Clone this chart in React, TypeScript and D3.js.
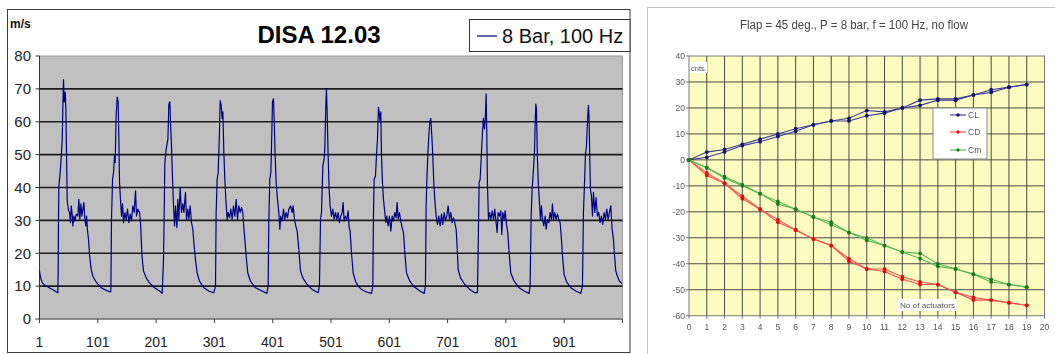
import React from 'react';
import * as d3 from 'd3';

// DISA probe trace, [sample, m/s]
const disaTrace: [number, number][] = [
  [1,14.5],[3,12.5],[6,11],[10,10.2],[15,9.8],[20,9.3],[25,8.8],[30,8.2],[32.5,8],[33,14],[33.6,30],[34.2,40.5],[36.5,44.6],[38.2,49],[40,54.7],[41.1,65],[42.2,72.8],[43.4,66],[45.1,69],[46.2,64.4],[47.4,49.7],[48.5,36],[50.8,33],[52.5,32.4],[54.2,29.3],[55.4,34.4],[57.1,31.9],[58.2,28.3],[60,31.3],[61.7,29.8],[64,31.9],[66.8,31.3],[68.5,36.4],[70.2,30.3],[72,35],[73.7,31.3],[75.4,33.4],[77.1,35.4],[78.8,30.3],[80.5,28.3],[81.7,31.3],[83.4,26.8],[85.1,24.2],[86.8,19.6],[89.7,15],[92.5,13],[98.3,11.2],[106.8,9.5],[115.4,8.7],[122.3,8.2],
  [123.4,8.5],[124.5,30.3],[126.3,42.5],[128,44.6],[129.7,49.7],[130.8,47.6],[132.5,62],[134.3,67.5],[136,66],[137.1,54.7],[138.3,41.5],[140,36],[141.7,31.3],[143.4,35],[145.1,29.3],[147.4,32.4],[149.7,30.3],[152,33.4],[154.3,29.3],[156.6,31.9],[158.8,29.8],[161.1,34.4],[163.4,32.4],[165.7,39],[167.4,31.3],[169.7,33.4],[172.6,32.4],[174.3,29.3],[176.6,19.6],[179.4,14.6],[184,12.5],[189.7,11],[198.3,9.5],[206.9,8.5],[211.4,7.8],
  [213.7,18],[214.9,32],[216,47.6],[218.3,51.7],[221.2,54.7],[222.9,65.4],[224.6,66.1],[225.7,60],[227.4,52.7],[229.2,42.5],[230.9,34.4],[232.6,28.3],[234.3,34.4],[236.6,27.8],[238.3,36.4],[240,30.3],[242.3,40],[244.6,32.4],[246.9,35],[248.6,32.4],[251.4,38.5],[253.1,30.3],[255.4,33.4],[257.1,30.3],[259.4,34.4],[261.7,29.3],[264,27.3],[266.3,22.2],[268.6,18],[271.4,14],[275.4,11.5],[282.9,9.5],[291.4,8.5],[300,8],
  [302.9,10],[304,32.4],[305.7,42.5],[307.5,44.6],[309.7,56.8],[310.9,66.4],[312.6,65],[314.3,61],[315.5,63],[317.2,50.7],[318.9,42.5],[320.6,36.4],[322.9,30.3],[324.6,32.4],[326.9,30.8],[329.2,33.4],[331.5,30.3],[333.7,34.4],[336,31.3],[338.3,36.4],[340.6,30.3],[342.9,34.4],[345.2,32.4],[347.5,33.9],[349.7,32.4],[351.5,27.8],[353.2,24.2],[355.5,19.1],[358.3,14],[362.9,11.5],[371.5,9.5],[382.9,8.5],[390.9,7.8],
  [393.2,10],[394.3,29.3],[396,42.5],[397.8,44.6],[398.9,51.7],[400.6,66],[402.3,67],[403.5,61],[405.2,49.7],[406.9,41.5],[409.2,36.4],[411.5,32.4],[413.2,27.3],[414.9,31.3],[417.2,29.8],[419.5,33.4],[421.8,30.3],[424,32.4],[426.4,30.8],[428.6,33.4],[431.5,34.4],[434.4,32.4],[436.1,34.4],[438.4,30.3],[440.6,28.3],[442.9,26.8],[445.8,21.2],[448.7,14.6],[452.7,12.5],[460.1,10.5],[468.7,9],[479,8],
  [481.2,10],[483,30.3],[484.7,32.4],[487,46.6],[489.2,48.6],[490.4,51.7],[492.1,65],[493.2,70],[494.4,63],[496.1,49.7],[497.8,39.5],[499.5,34.4],[501.8,31.3],[504.1,33.4],[506.4,30.3],[508.7,32.4],[511,30.3],[513.2,32.4],[515.5,29.3],[517.8,31.3],[520.1,32.4],[521.8,35.4],[523.5,29.8],[525.8,31.3],[528.1,30.3],[530.4,32.9],[532.1,27.8],[533.8,26.8],[536.1,20.2],[539,14],[543,11.5],[547.6,10],[553.3,9],[561.8,8.2],[570.4,7.8],
  [572.7,10],[573.9,32.4],[575,42.5],[577.3,43.5],[579,49.7],[580.7,54.7],[582.4,64.4],[584.1,62],[585.3,60],[586.4,63],[587.6,49.7],[589.3,41.5],[591,36.4],[593.3,32.4],[595,29.3],[596.7,31.3],[599,28.3],[601.3,31.3],[603.6,26.8],[605.9,31.3],[608.2,29.8],[610.4,32.4],[612.7,30.8],[614.4,35.4],[616.2,30.3],[618.4,32.4],[620.7,29.8],[623,27.8],[625.3,26.3],[627.6,20.2],[630.5,14],[636.2,11.5],[643.6,9.8],[653.3,8.5],[660.8,7.8],
  [663,10],[664.2,34.4],[665.3,41.5],[667,49.7],[668.8,55.8],[670.5,60],[672.2,61],[673.9,55.8],[675.6,49.7],[677.3,41.5],[679,36.4],[681.3,31.3],[683.6,28.8],[685.9,31.3],[688.2,28.3],[690.5,31.9],[692.8,28.8],[695.1,32.4],[697.3,29.8],[699.6,31.3],[701.9,34.4],[704.2,30.3],[706.5,32.4],[708.8,29.3],[711.1,30.8],[713.3,29.3],[715.6,27.3],[717.3,22.2],[719.1,15.1],[723.1,12.5],[730.5,10.5],[739.1,9],[747.6,8],[752.2,8],
  [753.4,21],[755.1,41.5],[756.8,42.5],[759.1,50.7],[760.8,56.8],[762.5,61],[764.2,57.8],[765.9,62],[767.1,68.5],[768.2,56.8],[769.4,40.5],[771.1,30.3],[772.8,32.4],[775.1,30.3],[777.4,32.9],[779.7,30.3],[781.9,33.4],[784.2,29.3],[786,26.3],[787.7,32.4],[790,31.3],[792.2,32.9],[794,25.7],[795.7,32.4],[798,30.3],[799.7,32.9],[802,28.8],[804.2,26.3],[806.5,20.2],[809.4,14],[815.1,11.5],[823.7,9.5],[832.3,8.5],[840.8,7.8],
  [842.5,10],[844.3,31.3],[846,39.5],[848.3,45.6],[850,50.7],[851.1,58.8],[852.3,65.4],[853.4,64],[855.1,48.6],[856.8,40.5],[858.6,35.4],[860.3,30.3],[862,34.4],[863.7,30.3],[866,28.3],[868.3,31.3],[870,27.3],[872.3,30.3],[874.6,29.3],[876.8,32.4],[879.1,30.3],[880.8,35],[882.6,30.3],[884.8,32.4],[887.1,30.3],[889.4,31.9],[891.7,30.3],[894,29.3],[896.3,24.2],[898.6,18],[900.9,13.5],[905.4,11.2],[912.3,9.5],[920.9,8.5],[929.4,7.8],
  [932.3,10],[934,32.4],[935.7,40.5],[937.4,49.7],[939.2,52.7],[940.9,60],[942.6,65],[943.7,61],[944.9,48.6],[946,39.5],[947.7,37.4],[949.5,31.3],[951.2,38.5],[953.5,32.4],[955.7,36.9],[958,31.3],[960.3,32.4],[962.6,29.3],[964.9,31.3],[967.2,28.8],[969.5,32.4],[971.7,30.3],[974,33.4],[976.3,30.3],[978.6,32.4],[980.9,34.4],[983.2,27.3],[985.5,24.2],[987.2,19.6],[989.5,14.6],[992.3,13],[995.8,11.5],[999.8,10.8],
];
const disaXTicks = [1, 101, 201, 301, 401, 501, 601, 701, 801, 901, 1001];
const disaYTicks = [0, 10, 20, 30, 40, 50, 60, 70, 80];

// right chart: coefficients vs number of actuators, two runs each
const actuators = [0, 1, 2, 3, 4, 5, 6, 7, 8, 9, 10, 11, 12, 13, 14, 15, 16, 17, 18, 19];
const clRunA = [0, 3, 4, 6, 8, 10, 12, 13.5, 15, 16, 19, 18.5, 20, 23, 23.5, 23.5, 25, 27, 28, 29];
const clRunB = [0, 1, 3, 5.5, 7, 9, 11, 13.5, 15, 15, 17, 18, 20, 21, 23, 23, 25, 26, 28, 29];
const cdRunA = [0, -5, -9, -14, -19, -23, -27, -30.5, -33, -38, -42, -42, -45, -47, -48, -51, -53, -54, -55, -56];
const cdRunB = [0, -6, -9, -15, -19, -24, -27, -30.5, -33, -39, -42, -43, -46, -48, -48, -51, -54, -54, -55, -56];
const cmRunA = [0, -3, -6.5, -9.5, -13, -16, -19, -22, -24, -28, -30, -33, -35.5, -36, -40, -42, -44, -46, -48, -49];
const cmRunB = [0, -3, -7, -10, -13, -17, -19, -22, -25, -28, -31, -33, -35.5, -38, -41, -42, -44, -47, -48, -49];
const coefXTicks = [0, 1, 2, 3, 4, 5, 6, 7, 8, 9, 10, 11, 12, 13, 14, 15, 16, 17, 18, 19, 20];
const coefYTicks = [40, 30, 20, 10, 0, -10, -20, -30, -40, -50, -60];

const coefSeries = [
  { name: 'CL', line: '#3a3a9a', dot: '#141466', runs: [clRunA, clRunB] },
  { name: 'CD', line: '#f25050', dot: '#e01010', runs: [cdRunA, cdRunB] },
  { name: 'Cm', line: '#55b855', dot: '#1f7a1f', runs: [cmRunA, cmRunB] },
];

const DisaChart = () => {
  const x = d3.scaleLinear().domain([1, 1001]).range([39.5, 622.5]);
  const y = d3.scaleLinear().domain([0, 80]).range([319, 56]);
  const line = d3.line<[number, number]>().x(d => x(d[0])).y(d => y(d[1]));
  const font = 'Arial, "Liberation Sans", sans-serif';
  return (
    <g fontFamily={font}>
      <rect x={7.5} y={9.5} width={622.5} height={343} fill="#fff" stroke="#3c3c3c" />
      <text x={10} y={28} fontSize={12} fontWeight="bold" fill="#111">m/s</text>
      <text x={319} y={43} fontSize={24} fontWeight="bold" textAnchor="middle" fill="#000">DISA 12.03</text>
      <rect x={39.5} y={56} width={583} height={263} fill="#c0c0c0" stroke="#9a9a9a" />
      {disaYTicks.filter(t => t > 0 && t < 80).map(t => (
        <line key={t} x1={39.5} x2={622.5} y1={y(t)} y2={y(t)} stroke="#1c1c1c" strokeWidth={1.6} />
      ))}
      <line x1={39.5} x2={39.5} y1={56} y2={319} stroke="#333" />
      <line x1={39.5} x2={622.5} y1={319} y2={319} stroke="#555" />
      {disaYTicks.map(t => (
        <g key={t}>
          <line x1={35.5} x2={39.5} y1={y(t)} y2={y(t)} stroke="#333" />
          <text x={31} y={y(t)} dy="0.35em" fontSize={15} textAnchor="end" fill="#222">{t}</text>
        </g>
      ))}
      {disaXTicks.map(t => (
        <g key={t}>
          <line x1={x(t)} x2={x(t)} y1={319} y2={323} stroke="#444" />
          {t < 1001 && <text x={x(t)} y={347} fontSize={14} textAnchor="middle" fill="#222">{t}</text>}
        </g>
      ))}
      <path d={line(disaTrace) || ''} fill="none" stroke="#000080" strokeWidth={1.2} strokeLinejoin="round" />
      <rect x={469.5} y={19.5} width={160.5} height={32} fill="#fff" stroke="#333" />
      <line x1={477} x2={497} y1={36} y2={36} stroke="#000080" strokeWidth={1.2} />
      <text x={502} y={43} fontSize={20} fill="#111">8 Bar, 100 Hz</text>
    </g>
  );
};

const CoefChart = () => {
  const x = d3.scaleLinear().domain([0, 20]).range([689, 1044.5]);
  const y = d3.scaleLinear().domain([-60, 40]).range([315.7, 56]);
  const font = 'Arial, "Liberation Sans", sans-serif';
  const legendRows = [115, 132, 150];
  return (
    <g fontFamily={font} filter="url(#soft)">
      <rect x={647} y={7} width={420} height={360} fill="#fff" stroke="#c4c4c4" strokeWidth={2} />
      <text x={854} y={29} fontSize={12} textAnchor="middle" fill="#444" textLength={228} lengthAdjust="spacingAndGlyphs">
        Flap = 45 deg., P = 8 bar, f = 100 Hz, no flow
      </text>
      <rect x={689} y={56} width={355.5} height={259.7} fill="#fdfcc0" stroke="#7a7a7a" />
      {coefXTicks.filter(t => t > 0 && t < 20).map(t => (
        <line key={'v' + t} x1={x(t)} x2={x(t)} y1={56} y2={315.7} stroke="#4a4a4a" strokeWidth={1} />
      ))}
      {coefYTicks.filter(t => t > -60 && t < 40).map(t => (
        <line key={'h' + t} x1={689} x2={1044.5} y1={y(t)} y2={y(t)} stroke="#4a4a4a" strokeWidth={1} />
      ))}
      {coefYTicks.map(t => (
        <g key={'yl' + t}>
          <line x1={686} x2={689} y1={y(t)} y2={y(t)} stroke="#777" />
          <text x={685} y={y(t)} dy="0.35em" fontSize={8.5} textAnchor="end" fill="#555">{t}</text>
        </g>
      ))}
      {coefXTicks.map(t => (
        <g key={'xl' + t}>
          <line x1={x(t)} x2={x(t)} y1={315.7} y2={318.7} stroke="#777" />
          <text x={x(t)} y={330} fontSize={8.5} textAnchor="middle" fill="#555">{t}</text>
        </g>
      ))}
      <rect x={690} y={62} width={17} height={11} fill="#fff" />
      <text x={691} y={70.5} fontSize={7.5} fill="#555">cnts.</text>
      <rect x={898} y={299} width={59} height={12} fill="#fff" />
      <text x={900} y={308} fontSize={8} fill="#555" textLength={55} lengthAdjust="spacingAndGlyphs">No of actuators</text>
      {coefSeries.map(s => s.runs.map((run, ri) => {
        const pts: [number, number][] = run.map((v, i) => [x(actuators[i]), y(v)]);
        return (
          <g key={s.name + ri}>
            <path d={d3.line()(pts) || ''} fill="none" stroke={s.line} strokeWidth={1.1} />
            {pts.map((p, i) => <circle key={i} cx={p[0]} cy={p[1]} r={1.9} fill={s.dot} />)}
          </g>
        );
      }))}
      <rect x={933} y={108} width={54} height={51} fill="#fff" stroke="#888" />
      {coefSeries.map((s, i) => (
        <g key={'lg' + s.name}>
          <line x1={950} x2={966} y1={legendRows[i]} y2={legendRows[i]} stroke={s.line} strokeWidth={1.1} />
          <circle cx={958} cy={legendRows[i]} r={1.7} fill={s.dot} />
          <text x={968} y={legendRows[i]} dy="0.35em" fontSize={8.5} fill="#555">{s.name}</text>
        </g>
      ))}
    </g>
  );
};

export default function App() {
  return (
    <svg width={1055} height={354} style={{ position: 'absolute', left: 0, top: 0, background: '#fff' }}>
      <defs>
        <filter id="soft" x="0" y="0" width="1" height="1">
          <feGaussianBlur stdDeviation="0.35" />
        </filter>
      </defs>
      <DisaChart />
      <CoefChart />
    </svg>
  );
}
